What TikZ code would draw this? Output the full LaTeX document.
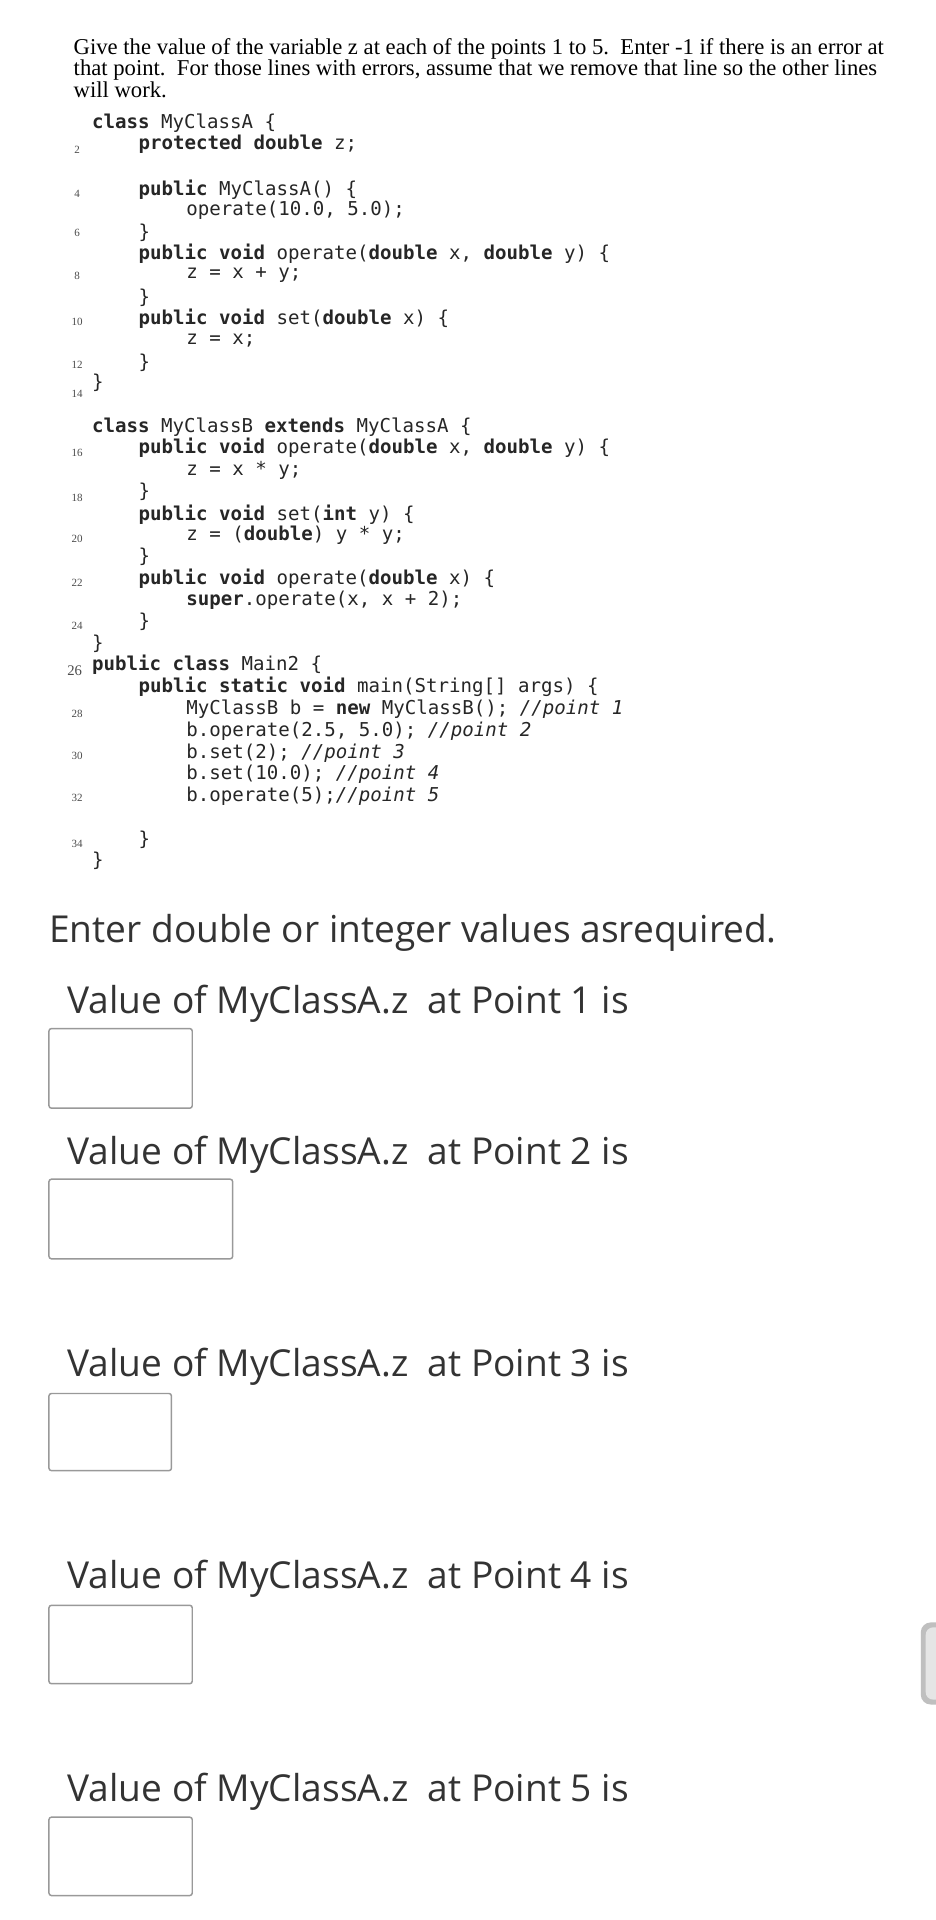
\documentclass[tikz,border=0pt]{standalone}
\usepackage{fontspec}
\setmainfont{Liberation Serif}
\newfontfamily\codefont{DejaVu Sans Mono}
\newfontfamily\uifont{Open Sans}
\begin{document}
\begin{tikzpicture}[x=1pt,y=-1pt,
  cl/.style={anchor=west,inner sep=0,font=\codefont\fontsize{15.6}{18}\selectfont,text=black!85},
  ln/.style={anchor=center,inner sep=0,font=\fontsize{9}{11}\selectfont,text=black!70},
  hd/.style={anchor=west,inner sep=0,font=\fontsize{18.5}{22}\selectfont},
  ui/.style={anchor=west,inner sep=0,font=\uifont\fontsize{30.3}{36}\selectfont,text=black!80},
  ansbox/.style={draw=black!40,line width=1.2pt,rounded corners=2pt}]
\useasboundingbox (0,0) rectangle (764,1568);
\fill[white] (0,0) rectangle (764,1568);
\node[hd] (h1) at (60,40) {Give the value of the variable z at each of the points 1 to 5.\ \ Enter -1 if there is an error at};
\node[hd] (h2) at (60,57) {that point.\ \ For those lines with errors, assume that we remove that line so the other lines};
\node[hd] (h3) at (60,73) {will work.};
\def\b#1{\textbf{#1}}
\def\c#1{\textit{#1}}
\node[cl] (c1) at (75,101) {\b{class} MyClassA \{};
\node[cl] (c2) at (113,118) {\b{protected double} z;};
\node[cl] (c3) at (113,155) {\b{public} MyClassA() \{};
\node[cl] (c4) at (152,172) {operate(10.0, 5.0);};
\node[cl] (c5) at (113,190) {\}};
\node[cl] (c6) at (113,207) {\b{public void} operate(\b{double} x, \b{double} y) \{};
\node[cl] (c7) at (152,225) {z = x + y;};
\node[cl] (c8) at (113,243) {\}};
\node[cl] (c9) at (113,260) {\b{public void} set(\b{double} x) \{};
\node[cl] (c10) at (152,278) {z = x;};
\node[cl] (c11) at (113,296) {\}};
\node[cl] (c12) at (75,313) {\}};
\node[cl] (c13) at (75,349) {\b{class} MyClassB \b{extends} MyClassA \{};
\node[cl] (c14) at (113,366) {\b{public void} operate(\b{double} x, \b{double} y) \{};
\node[cl] (c15) at (152,384) {z = x * y;};
\node[cl] (c16) at (113,402) {\}};
\node[cl] (c17) at (113,420) {\b{public void} set(\b{int} y) \{};
\node[cl] (c18) at (152,437) {z = (\b{double}) y * y;};
\node[cl] (c19) at (113,455) {\}};
\node[cl] (c20) at (113,473) {\b{public void} operate(\b{double} x) \{};
\node[cl] (c21) at (152,490) {\b{super}.operate(x, x + 2);};
\node[cl] (c22) at (113,508) {\}};
\node[cl] (c23) at (75,526) {\}};
\node[cl] (c24) at (75,543) {\b{public class} Main2 \{};
\node[cl] (c25) at (113,561) {\b{public static void} main(String[] args) \{};
\node[cl] (c26) at (152,579) {MyClassB b = \b{new} MyClassB(); \c{//point 1}};
\node[cl] (c27) at (152,597) {b.operate(2.5, 5.0); \c{//point 2}};
\node[cl] (c28) at (152,615) {b.set(2); \c{//point 3}};
\node[cl] (c29) at (152,632) {b.set(10.0); \c{//point 4}};
\node[cl] (c30) at (152,650) {b.operate(5);\c{//point 5}};
\node[cl] (c31) at (113,686) {\}};
\node[cl] (c32) at (75,703) {\}};
\foreach \n/\y in {2/122,4/158,6/190,8/225,10/263,12/298,14/322,16/370,18/407,20/440,22/476,24/511,28/583,30/617,32/652,34/689}
  \node[ln] (n\n) at (63,\y) {\n};
\node[ln,font=\fontsize{12}{14}\selectfont] (n26) at (61,548) {26};
\node[ui] (t0) at (40,762) {Enter double or integer values asrequired.};
\node[ui] (t1) at (55,820) {Value of MyClassA.z\ \ at Point 1 is};
\node[ui] (t2) at (55,943) {Value of MyClassA.z\ \ at Point 2 is};
\node[ui] (t3) at (55,1116) {Value of MyClassA.z\ \ at Point 3 is};
\node[ui] (t4) at (55,1289) {Value of MyClassA.z\ \ at Point 4 is};
\node[ui] (t5) at (55,1463) {Value of MyClassA.z\ \ at Point 5 is};
\draw[ansbox] (40,840) rectangle (157,905);
\draw[ansbox] (40,963) rectangle (190,1028);
\draw[ansbox] (40,1138) rectangle (140,1201);
\draw[ansbox] (40,1311) rectangle (157,1375);
\draw[ansbox] (40,1484) rectangle (157,1548);
\fill[black!25,rounded corners=8pt] (752,1325) rectangle (775,1392);
\fill[black!10,rounded corners=6pt] (756,1329) rectangle (775,1388);
\end{tikzpicture}
\end{document}
